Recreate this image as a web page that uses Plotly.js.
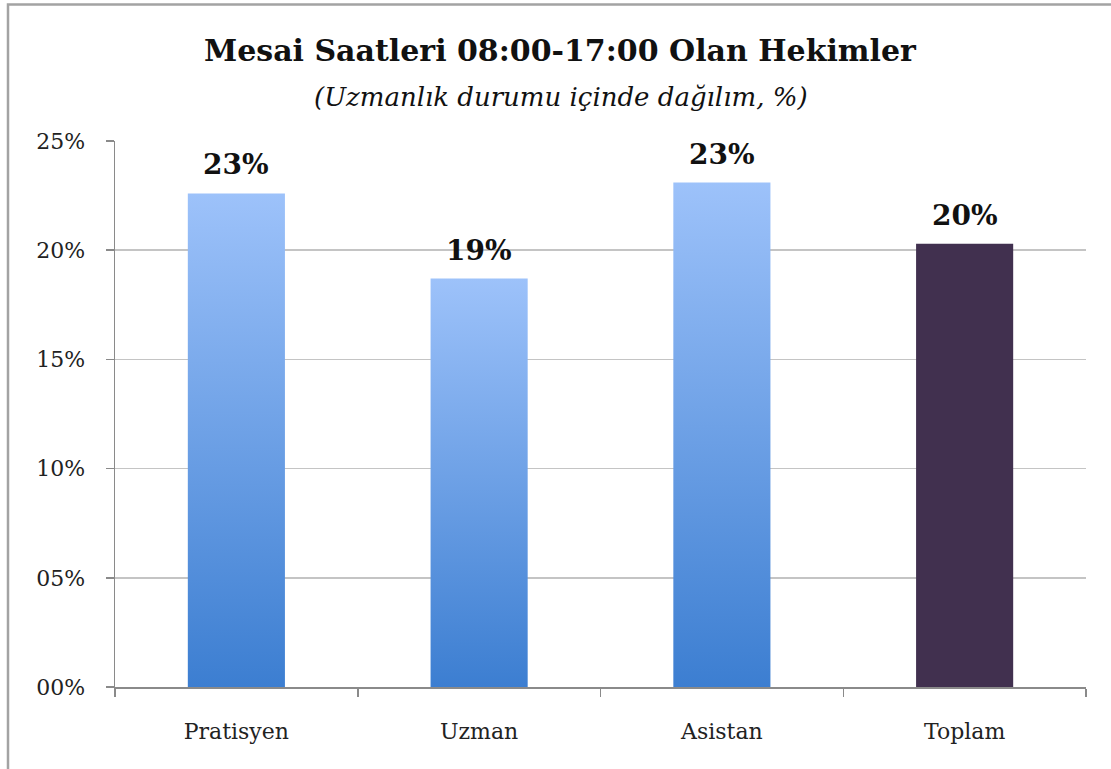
<!DOCTYPE html>
<html>
<head>
<meta charset="utf-8">
<script src="https://cdn.plot.ly/plotly-3.0.1.min.js"></script>
<style>html,body{margin:0;padding:0;background:#fff;}#chart{width:1111px;height:769px;}</style>
</head>
<body>
<div id="chart"></div>
<script>
var categories = ["Pratisyen", "Uzman", "Asistan", "Toplam"];
var values = [22.6, 18.7, 23.1, 20.3];
var barColors = ["#6a9fe6", "#6a9fe6", "#6a9fe6", "#41304f"];
var tickVals = [0, 5, 10, 15, 20, 25];
var tickText = ["00%", "05%", "10%", "15%", "20%", "25%"];
var titleText = "Mesai Saatleri 08:00-17:00 Olan Hekimler";
var subtitleText = "(Uzmanlık durumu içinde dağılım, %)";

var FONT = "DejaVu Serif, Liberation Serif, serif";

var trace = {
  type: "bar",
  x: categories,
  y: values,
  marker: {color: barColors, line: {width: 0}},
  hoverinfo: "none"
};

var labelAnnotations = categories.map(function (c, i) {
  return {
    x: c, y: values[i], xref: "x", yref: "y",
    text: "<b>" + Math.round(values[i]) + "%</b>",
    showarrow: false, yanchor: "bottom", yshift: 10,
    font: {family: FONT, size: 28, color: "#111"}
  };
});

labelAnnotations.push({
  xref: "paper", yref: "paper", x: 0.459, y: (687 - 114) / 546,
  xanchor: "center", yanchor: "bottom",
  text: "<i>" + subtitleText + "</i>", showarrow: false,
  font: {family: FONT, size: 26, color: "#111"}
});

var layout = {
  width: 1111, height: 769,
  margin: {l: 115, r: 25, t: 141, b: 82},
  paper_bgcolor: "#fff", plot_bgcolor: "#fff",
  showlegend: false,
  bargap: 0.6,
  title: {
    text: "<b>" + titleText + "</b>",
    font: {family: FONT, size: 30, color: "#111"},
    x: 0.504, xanchor: "center", xref: "container",
    y: 1 - 61 / 769, yanchor: "bottom", yref: "container"
  },
  xaxis: {
    type: "category",
    showgrid: false, zeroline: false,
    showline: true, linecolor: "#8a8a8a", linewidth: 1.5,
    ticks: "outside", ticklen: 8, tickcolor: "#8a8a8a", tickwidth: 1.5,
    tickson: "boundaries",
    ticklabelstandoff: 24,
    tickfont: {family: FONT, size: 22, color: "#222"},
    fixedrange: true
  },
  yaxis: {
    range: [0, 25],
    tickvals: tickVals, ticktext: tickText,
    showgrid: true, gridcolor: "#c4c4c4", gridwidth: 1.5,
    zeroline: false,
    showline: true, linecolor: "#8a8a8a", linewidth: 1.5,
    ticks: "outside", ticklen: 8, tickcolor: "#8a8a8a", tickwidth: 1.5,
    ticklabelstandoff: 16,
    tickfont: {family: FONT, size: 22, color: "#222"},
    fixedrange: true
  },
  annotations: labelAnnotations,
  shapes: [{
    type: "rect", xref: "paper", yref: "paper",
    x0: (8 - 115) / 971, x1: (1125 - 115) / 971,
    y0: (687 - 785) / 546, y1: (687 - 4.5) / 546,
    line: {color: "#a3a3a3", width: 2.5}, fillcolor: "rgba(0,0,0,0)",
    layer: "below"
  }]
};

Plotly.newPlot("chart", [trace], layout, {staticPlot: true, displayModeBar: false}).then(function (gd) {
  var svg = gd.querySelector(".main-svg");
  var ns = "http://www.w3.org/2000/svg";
  var defs = svg.querySelector("defs") || svg.insertBefore(document.createElementNS(ns, "defs"), svg.firstChild);
  var grad = document.createElementNS(ns, "linearGradient");
  grad.setAttribute("id", "barGrad");
  grad.setAttribute("x1", "0"); grad.setAttribute("y1", "0");
  grad.setAttribute("x2", "0"); grad.setAttribute("y2", "1");
  [["0", "#9dc2fa"], ["1", "#3c7ed1"]].forEach(function (s) {
    var st = document.createElementNS(ns, "stop");
    st.setAttribute("offset", s[0]);
    st.setAttribute("stop-color", s[1]);
    grad.appendChild(st);
  });
  defs.appendChild(grad);
  var paths = gd.querySelectorAll(".trace.bars .point path");
  paths.forEach(function (p, i) {
    if (barColors[i] !== "#41304f") p.style.fill = "url(#barGrad)";
  });
});
</script>
</body>
</html>
